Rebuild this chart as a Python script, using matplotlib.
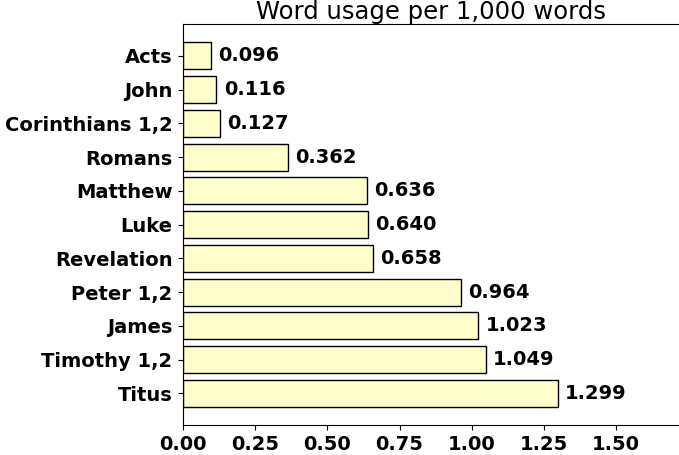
import numpy as np
import matplotlib.pyplot as plt

books = ["Acts", "John", "Corinthians 1,2", "Romans", "Matthew", "Luke",
         "Revelation", "Peter 1,2", "James", "Timothy 1,2", "Titus"]
usage = [0.096, 0.116, 0.127, 0.362, 0.636, 0.640, 0.658, 0.964, 1.023, 1.049, 1.299]
xticks = [0, 0.25, 0.5, 0.75, 1.0, 1.25, 1.5]

fig = plt.figure(figsize=(6.79, 4.55), dpi=100)
ax = fig.add_axes([0.2695, 0.0659, 0.7305, 0.8813])

y = np.arange(len(books))
ax.barh(y, usage, height=0.8, color="#ffffcc", edgecolor="black", linewidth=1)
for yi, v in zip(y, usage):
    ax.text(v + 0.025, yi, f"{v:.3f}", va="center", ha="left",
            fontsize=14, fontweight="bold")

ax.set_yticks(y)
ax.set_yticklabels(books, fontsize=14, fontweight="bold")
ax.invert_yaxis()
ax.set_xlim(0, 1.718)
ax.set_xticks(xticks)
ax.set_xticklabels([f"{t:.2f}" for t in xticks], fontsize=14, fontweight="bold")
ax.tick_params(axis="y", pad=4)
ax.spines["right"].set_visible(False)
ax.set_title("Word usage per 1,000 words", fontsize=17.5, pad=3)

fig.savefig("out.png", dpi=100)
